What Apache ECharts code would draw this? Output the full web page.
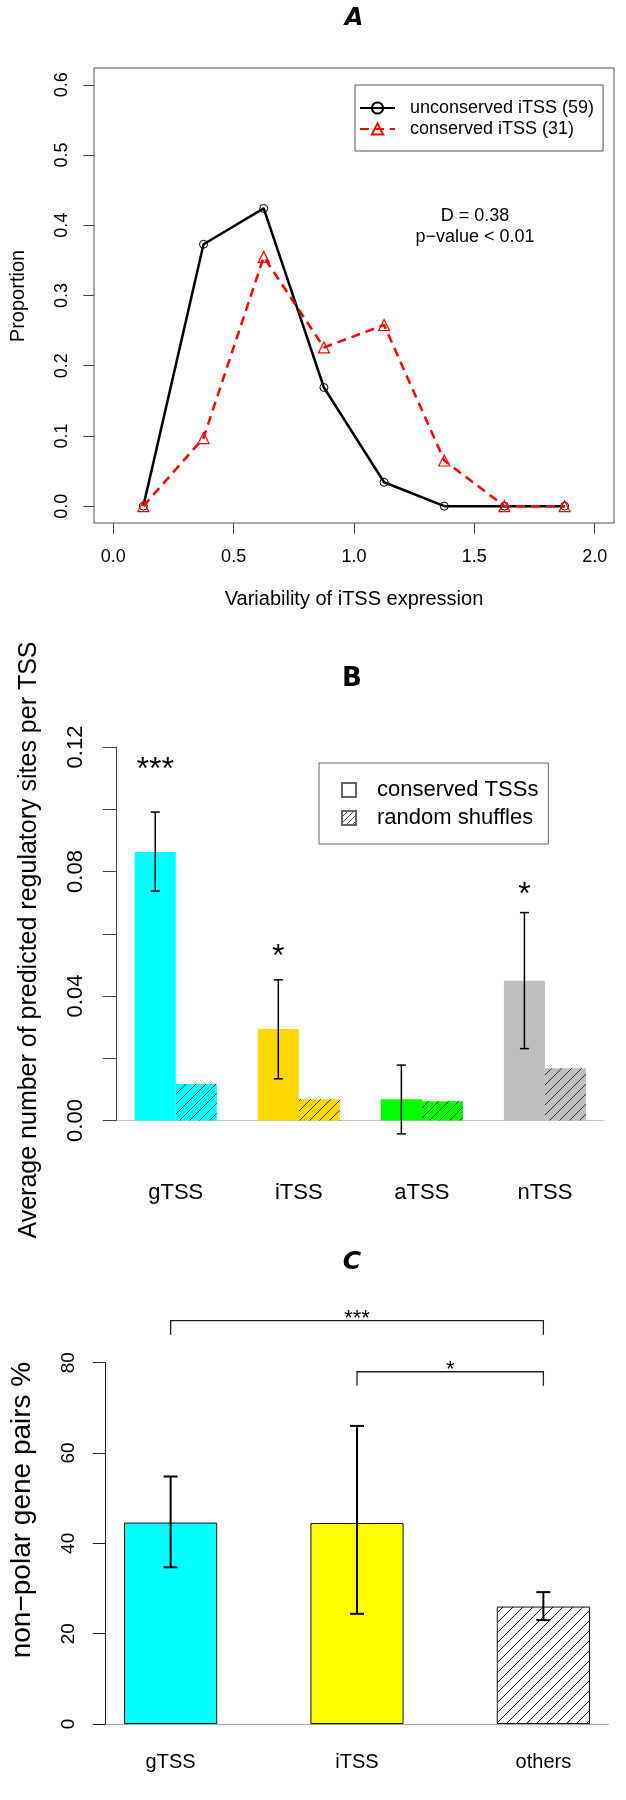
<!DOCTYPE html>
<html><head><meta charset="utf-8">
<script src="https://cdn.jsdelivr.net/npm/echarts@6/dist/echarts.min.js"></script>
<style>html,body{margin:0;padding:0;background:#fff}#c{width:626px;height:1800px}</style>
</head><body><div id="c"></div>
<script>
// ---------- Panel A data ----------
const binCenters = [0.125, 0.375, 0.625, 0.875, 1.125, 1.375, 1.625, 1.875];
const unconservedProp = [0.000, 0.373, 0.424, 0.169, 0.034, 0.000, 0.000, 0.000];
const conservedProp = [0.000, 0.097, 0.355, 0.226, 0.258, 0.065, 0.000, 0.000];
const xTicksA = [0, 0.5, 1, 1.5, 2];
const yTicksA = [0, 0.1, 0.2, 0.3, 0.4, 0.5, 0.6];
const seriesNamesA = ['unconserved iTSS (59)', 'conserved iTSS (31)'];
// ---------- Panel B data ----------
const tssTypesB = ['gTSS', 'iTSS', 'aTSS', 'nTSS'];
const conservedSites = [0.0863, 0.0294, 0.0068, 0.0449];
const shuffledSites = [0.0117, 0.0068, 0.0062, 0.0168];
const errLowB = [0.0737, 0.0134, -0.0043, 0.0231];
const errHighB = [0.0991, 0.0452, 0.0178, 0.0668];
const starsB = ['***', '*', '', '*'];
const starLevelB = [0.115, 0.055, null, 0.075];
const barColorsB = ['#00FFFF', '#FFD700', '#00FF00', '#BEBEBE'];
const seriesNamesB = ['conserved TSSs', 'random shuffles'];
// ---------- Panel C data ----------
const tssTypesC = ['gTSS', 'iTSS', 'others'];
const nonPolarPct = [44.6, 44.5, 26.0];
const errLowC = [34.7, 24.4, 23.0];
const errHighC = [54.8, 66.0, 29.2];
const bracketFrom = [0, 1];
const bracketTo = [2, 2];
const bracketLevel = [89.3, 78.0];
const bracketLabel = ['***', '*'];

const FF = '"Liberation Sans", Arial, Helvetica, sans-serif';

function hatch(bg, line, s, lw) {
  const c = document.createElement('canvas');
  c.width = s; c.height = s;
  const g = c.getContext('2d');
  g.fillStyle = bg; g.fillRect(0, 0, s, s);
  g.strokeStyle = line; g.lineWidth = lw;
  g.beginPath();
  for (const k of [-1, 0, 1]) { g.moveTo(k * s, s); g.lineTo(k * s + s, 0); }
  g.stroke();
  return { image: c, repeat: 'repeat' };
}

const groupXB = i => 3 * i + 2;       // center of a bar pair (R barplot units)
const leftBarXB = i => 3 * i + 1.5;   // center of the conserved bar
const barXC = i => 2 * i + 1.5;

function errRender(cap, lw) {
  return function (params, api) {
    const x = api.value(0);
    const lo = api.coord([x, api.value(1)]);
    const hi = api.coord([x, api.value(2)]);
    const st = { stroke: '#000', lineWidth: lw };
    return { type: 'group', children: [
      { type: 'line', shape: { x1: lo[0], y1: lo[1], x2: hi[0], y2: hi[1] }, style: st },
      { type: 'line', shape: { x1: lo[0] - cap, y1: lo[1], x2: lo[0] + cap, y2: lo[1] }, style: st },
      { type: 'line', shape: { x1: hi[0] - cap, y1: hi[1], x2: hi[0] + cap, y2: hi[1] }, style: st }
    ]};
  };
}

function txt(text, x, y, size, opts) {
  opts = opts || {};
  return {
    type: 'text', x: x, y: y, rotation: opts.rot || 0, silent: true,
    style: {
      text: text, x: 0, y: 0,
      font: (opts.weight || 'normal') + ' ' + size + 'px ' + (opts.family || FF),
      fill: '#000', align: 'center', verticalAlign: 'middle',
      textAlign: 'center', textVerticalAlign: 'middle'
    }
  };
}

const chart = echarts.init(document.getElementById('c'), null, { renderer: 'canvas' });

const labelBase = { color: '#000', fontFamily: FF };

const option = {
  backgroundColor: '#fff',
  animation: false,
  grid: [
    { left: 94, top: 68, width: 520, height: 455, show: true, borderColor: '#555', borderWidth: 1, backgroundColor: 'transparent' },
    { left: 116.7, top: 747, width: 487.3, height: 373.5 },
    { left: 105.4, top: 1362.7, width: 503.2, height: 361.3 }
  ],
  xAxis: [
    { gridIndex: 0, type: 'value', min: -0.08, max: 2.08,
      axisLine: { show: false, onZero: false },
      axisTick: { show: true, customValues: xTicksA, length: 10.7, lineStyle: { color: '#444' } },
      axisLabel: Object.assign({ customValues: xTicksA, formatter: v => v.toFixed(1), fontSize: 18, margin: 25 }, labelBase),
      splitLine: { show: false } },
    { gridIndex: 1, type: 'value', min: 0.56, max: 12.44,
      axisLine: { show: true, onZero: false, lineStyle: { color: '#c8c8c8', width: 1 } },
      axisTick: { show: false },
      axisLabel: Object.assign({ customValues: tssTypesB.map((c, i) => groupXB(i)), formatter: v => tssTypesB[Math.round((v - 2) / 3)], fontSize: 22, margin: 61 }, labelBase),
      splitLine: { show: false } },
    { gridIndex: 2, type: 'value', min: 0.8, max: 6.2,
      axisLine: { show: true, onZero: false, lineStyle: { color: '#aaa', width: 1 } },
      axisTick: { show: false },
      axisLabel: Object.assign({ customValues: tssTypesC.map((c, i) => barXC(i)), formatter: v => tssTypesC[Math.round((v - 1.5) / 2)], fontSize: 20, margin: 28 }, labelBase),
      splitLine: { show: false } }
  ],
  yAxis: [
    { gridIndex: 0, type: 'value', min: -0.024, max: 0.624,
      axisLine: { show: false, onZero: false },
      axisTick: { show: true, customValues: yTicksA, length: 10.7, lineStyle: { color: '#444' } },
      axisLabel: Object.assign({ customValues: yTicksA, formatter: v => v.toFixed(1), fontSize: 18, rotate: 90, margin: 23 }, labelBase),
      splitLine: { show: false } },
    { gridIndex: 1, type: 'value', min: 0, max: 0.12, interval: 0.02,
      axisLine: { show: true, onZero: false, lineStyle: { color: '#444', width: 1 } },
      axisTick: { show: true, length: 14, lineStyle: { color: '#444' } },
      axisLabel: Object.assign({ fontSize: 22, rotate: 90, margin: 30,
        formatter: v => (Math.abs(Math.round(v / 0.04) * 0.04 - v) < 1e-9 ? v.toFixed(2) : '') }, labelBase),
      splitLine: { show: false } },
    { gridIndex: 2, type: 'value', min: 0, max: 80, interval: 20,
      axisLine: { show: true, onZero: false, lineStyle: { color: '#222', width: 1 } },
      axisTick: { show: true, length: 12.6, lineStyle: { color: '#222' } },
      axisLabel: Object.assign({ fontSize: 19, rotate: 90, margin: 27 }, labelBase),
      splitLine: { show: false } }
  ],
  legend: [
    { data: seriesNamesA, left: 355, top: 85, orient: 'vertical', selectedMode: false,
      itemWidth: 35, itemHeight: 14, itemGap: 3, padding: [14, 9, 13, 4],
      borderColor: '#555', borderWidth: 1,
      textStyle: { fontSize: 18, color: '#000', fontFamily: FF, padding: [0, 0, 0, 10] } },
    { data: seriesNamesB, left: 319, top: 763, orient: 'vertical', selectedMode: false,
      icon: 'rect',
      itemWidth: 14, itemHeight: 14, itemGap: 6, padding: [16, 10, 15, 22],
      borderColor: '#666', borderWidth: 1,
      textStyle: { fontSize: 22, color: '#000', fontFamily: FF, padding: [0, 0, 0, 16] } }
  ],
  series: [
    // Panel A
    { name: seriesNamesA[0], type: 'line', xAxisIndex: 0, yAxisIndex: 0,
      data: binCenters.map((x, i) => [x, unconservedProp[i]]),
      symbol: 'circle', symbolSize: 8,
      lineStyle: { color: '#000', width: 2.5 },
      itemStyle: { color: 'rgba(255,255,255,0)', borderColor: '#000', borderWidth: 1 }, z: 2 },
    { name: seriesNamesA[1], type: 'line', xAxisIndex: 0, yAxisIndex: 0,
      data: binCenters.map((x, i) => [x, conservedProp[i]]),
      symbol: 'triangle', symbolSize: 11,
      lineStyle: { color: '#FF0000', width: 2.5, type: [9, 6] },
      itemStyle: { color: 'rgba(255,255,255,0)', borderColor: '#FF0000', borderWidth: 1.2 }, z: 3 },
    // Panel B
    { name: seriesNamesB[0], type: 'bar', xAxisIndex: 1, yAxisIndex: 1,
      barWidth: '33.333%', barGap: '0%',
      itemStyle: { color: '#fff', borderColor: '#666', borderWidth: 1 },
      data: tssTypesB.map((c, i) => ({ value: [groupXB(i), conservedSites[i]], itemStyle: { color: barColorsB[i], borderWidth: 0 } })) },
    { name: seriesNamesB[1], type: 'bar', xAxisIndex: 1, yAxisIndex: 1,
      barWidth: '33.333%', barGap: '0%',
      itemStyle: { color: hatch('#fff', '#555', 6, 1), borderColor: '#666', borderWidth: 1 },
      data: tssTypesB.map((c, i) => ({ value: [groupXB(i), shuffledSites[i]], itemStyle: { color: hatch(barColorsB[i], '#333', 10, 1), borderWidth: 0 } })) },
    { type: 'custom', xAxisIndex: 1, yAxisIndex: 1, clip: false, z: 5,
      encode: { x: 0, y: [1, 2] },
      data: tssTypesB.map((c, i) => [leftBarXB(i), errLowB[i], errHighB[i]]),
      renderItem: errRender(4.5, 1.5) },
    { type: 'custom', xAxisIndex: 1, yAxisIndex: 1, clip: false, z: 5,
      encode: { x: 0, y: 1 },
      data: tssTypesB.map((c, i) => [leftBarXB(i), starLevelB[i], i]).filter(d => d[1] !== null),
      renderItem: function (params, api) {
        const p = api.coord([api.value(0), api.value(1)]);
        return { type: 'text', x: p[0], y: p[1] + 8, style: {
          text: starsB[api.value(2)], font: '32px ' + FF, fill: '#000',
          align: 'center', verticalAlign: 'middle', textAlign: 'center', textVerticalAlign: 'middle' } };
      } },
    // Panel C
    { name: 'nonpolar', type: 'bar', xAxisIndex: 2, yAxisIndex: 2, barWidth: '50%',
      data: tssTypesC.map((c, i) => ({ value: [barXC(i), nonPolarPct[i]],
        itemStyle: { color: i === 0 ? '#00FFFF' : (i === 1 ? '#FFFF00' : hatch('#fff', '#111', 10, 1)), borderColor: '#111', borderWidth: 1 } })) },
    { type: 'custom', xAxisIndex: 2, yAxisIndex: 2, clip: false, z: 5,
      encode: { x: 0, y: [1, 2] },
      data: tssTypesC.map((c, i) => [barXC(i), errLowC[i], errHighC[i]]),
      renderItem: errRender(7, 2) },
    { type: 'custom', xAxisIndex: 2, yAxisIndex: 2, clip: false, z: 5,
      encode: { x: [0, 1], y: 2 },
      data: bracketFrom.map((f, k) => [barXC(f), barXC(bracketTo[k]), bracketLevel[k], k]),
      renderItem: function (params, api) {
        const y = api.value(2);
        const a = api.coord([api.value(0), y]);
        const b = api.coord([api.value(1), y]);
        const drop = 14;
        return { type: 'group', children: [
          { type: 'polyline', shape: { points: [[a[0], a[1] + drop], a, b, [b[0], b[1] + drop]] },
            style: { stroke: '#222', lineWidth: 1.3, fill: null } },
          { type: 'text', x: (a[0] + b[0]) / 2, y: a[1] - 2, style: {
            text: bracketLabel[api.value(3)], font: '22px ' + FF, fill: '#000',
            align: 'center', verticalAlign: 'middle', textAlign: 'center', textVerticalAlign: 'middle' } }
        ]};
      } }
  ],
  graphic: [
    txt('A', 354, 19, 24, { weight: 'bold italic', family: '"DejaVu Sans", sans-serif' }),
    txt('B', 352, 679, 26, { weight: 'bold', family: '"DejaVu Sans", sans-serif' }),
    txt('C', 352, 1262, 25, { weight: 'bold italic', family: '"DejaVu Sans", sans-serif' }),
    txt('Variability of iTSS expression', 354, 599, 20),
    txt('Proportion', 18, 296, 20, { rot: Math.PI / 2 }),
    txt('D = 0.38', 475, 216, 18),
    txt('p\u2212value < 0.01', 475, 237, 18),
    txt('Average number of predicted regulatory sites per TSS', 29, 940, 25, { rot: Math.PI / 2 }),
    txt('non\u2212polar gene pairs %', 22, 1510, 28, { rot: Math.PI / 2 })
  ]
};
chart.setOption(option);
</script>
</body></html>
